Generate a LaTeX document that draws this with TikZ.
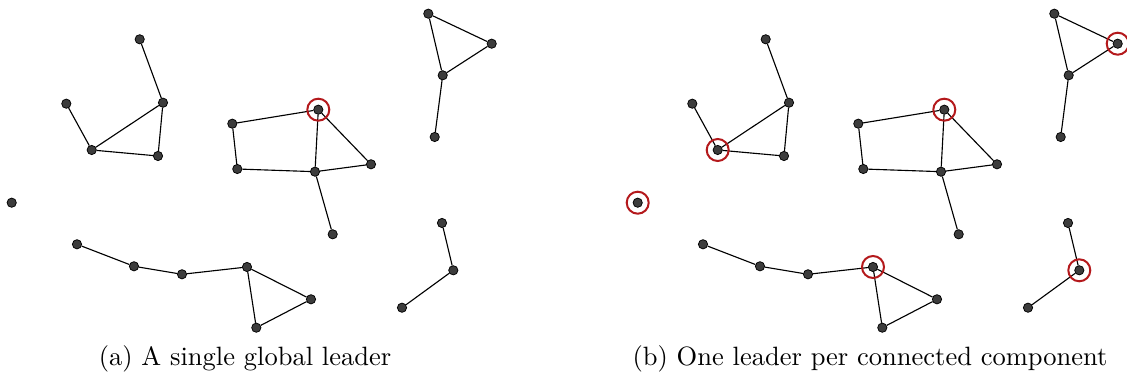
\documentclass[tikz,border=0pt]{standalone}
\definecolor{dot}{HTML}{3C3C3C}
\definecolor{lead}{HTML}{B4191C}
\tikzset{
  vtx/.style={circle,fill=dot,draw=black,line width=.3pt,inner sep=0pt,minimum size=3.7pt},
  edge/.style={black,line width=.45pt},
  leader/.style={lead,line width=.8pt},
  subcap/.style={font=\fontsize{10.6}{13}\selectfont},
}
% the same graph, drawn in each panel
\newcommand\graphpanel{%
  \foreach \n/\x/\y in {1/139.7/39.3, 2/163/102.7, 3/66.3/103.7, 4/91.7/150, 5/158/156,
      6/232.3/123.7, 7/318.3/109.7, 8/237.3/169, 9/315/171.7, 10/371/164.3, 11/332.7/234.3,
      12/428.3/13.7, 13/491.7/43.7, 14/442.7/75.3, 15/434.7/137,
      16/11.7/202.7, 17/77/244.3, 18/134/266.3, 19/182/274.3, 20/247/267,
      21/311/299.3, 22/256.3/327.7, 23/442/223, 24/453.3/270.3, 25/402/307.7}
    \node[vtx] (\n) at (\x,\y) {};
  \foreach \a/\b in {1/2, 3/4, 4/2, 4/5, 5/2,
      6/7, 6/8, 8/9, 7/9, 7/10, 9/10, 9/11,
      12/13, 12/14, 13/14, 14/15,
      17/18, 18/19, 19/20, 20/21, 20/22, 21/22,
      23/24, 24/25}
    \draw[edge] (\a) -- (\b);
}
\begin{document}
\begin{tikzpicture}[x=0.4pt,y=-0.4pt]
\useasboundingbox (0,0) rectangle (1127,378);
% (a) one leader for the whole graph
\begin{scope}[name prefix=a-]
  \graphpanel
  \draw[leader] (7) circle (11);
  \node[subcap] (capa) at (245,359) {(a) A single global leader};
\end{scope}
% (b) one leader in each component
\begin{scope}[name prefix=b-,shift={(626,0)}]
  \graphpanel
  \foreach \n in {4,7,13,16,20,24}
    \draw[leader] (\n) circle (11);
  \node[subcap] (capb) at (244,359) {(b) One leader per connected component};
\end{scope}
\end{tikzpicture}
\end{document}
